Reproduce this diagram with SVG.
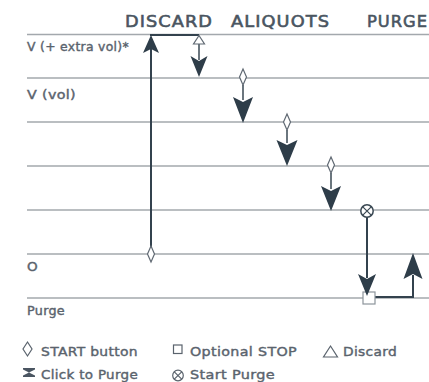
<svg xmlns="http://www.w3.org/2000/svg" width="429" height="382" viewBox="0 0 429 382">
<style>
.grid{stroke:#a3a8ad;stroke-width:1.5;fill:none}
.conn{stroke:#33424e;stroke-width:2;fill:none}
.thin{stroke:#3a4853;stroke-width:1.5;fill:none}
.head{fill:#2e3d49;stroke:none}
.sym{fill:#fff;stroke:#5f6872;stroke-width:1.2}
.hdr{font-family:"DejaVu Sans",sans-serif;font-size:16.5px;letter-spacing:1px;fill:#4a5561;stroke:#4a5561;stroke-width:0.6}
.lbl{font-family:"DejaVu Sans",sans-serif;font-size:12px;letter-spacing:0.3px;fill:#5a636d;stroke:#5a636d;stroke-width:0.4}
.leg{font-family:"DejaVu Sans",sans-serif;font-size:13px;letter-spacing:0.3px;fill:#5a636d;stroke:#5a636d;stroke-width:0.4}
.licon{fill:none;stroke:#5a636d;stroke-width:1.2}
</style>
<rect width="429" height="382" fill="#fff"/>
<g id="grid">
<line class="grid" x1="27" y1="34.5" x2="429" y2="34.5"/>
<line class="grid" x1="27" y1="78" x2="429" y2="78"/>
<line class="grid" x1="27" y1="122" x2="429" y2="122"/>
<line class="grid" x1="27" y1="166" x2="429" y2="166"/>
<line class="grid" x1="27" y1="210" x2="429" y2="210"/>
<line class="grid" x1="27" y1="254" x2="429" y2="254"/>
<line class="grid" x1="27" y1="298" x2="429" y2="298"/>
</g>
<g id="headers">
<text class="hdr" x="125" y="26.5" textLength="88" lengthAdjust="spacingAndGlyphs">DISCARD</text>
<text class="hdr" x="231" y="26.5" textLength="99" lengthAdjust="spacingAndGlyphs">ALIQUOTS</text>
<text class="hdr" x="367" y="26.5" textLength="61" lengthAdjust="spacingAndGlyphs">PURGE</text>
</g>
<g id="labels">
<text class="lbl" x="27" y="51" textLength="102" lengthAdjust="spacingAndGlyphs">V (+ extra vol)*</text>
<text class="lbl" x="27" y="99" textLength="49" lengthAdjust="spacingAndGlyphs">V (vol)</text>
<text class="lbl" x="27" y="271" font-size="13" textLength="11" lengthAdjust="spacingAndGlyphs">O</text>
<text class="lbl" x="27" y="315" textLength="38" lengthAdjust="spacingAndGlyphs">Purge</text>
</g>
<g id="connectors">
<line class="conn" x1="151" y1="247" x2="151" y2="48"/>
<line class="conn" x1="150" y1="35" x2="199" y2="35"/>
<line class="thin" x1="199" y1="44" x2="199" y2="60"/>
<line class="thin" x1="243" y1="85" x2="243" y2="100"/>
<line class="thin" x1="287" y1="130" x2="287" y2="143"/>
<line class="thin" x1="331" y1="173" x2="331" y2="189"/>
<line class="conn" x1="367" y1="217" x2="367" y2="278"/>
<line class="conn" x1="374" y1="297" x2="413" y2="297"/>
<line class="conn" x1="413" y1="298" x2="413" y2="275"/>
<path class="head" d="M151,35 L143,53 L151,49 L159,53 Z"/>
<path class="head" d="M199,77 L190.5,56 L199,61 L207.5,56 Z"/>
<path class="head" d="M243,123 L233,97 L243,102 L253,97 Z"/>
<path class="head" d="M287,166 L276.5,140 L287,145 L297.5,140 Z"/>
<path class="head" d="M331,211 L321,186 L331,191 L341,186 Z"/>
<path class="head" d="M413,253 L403.5,279 L413,274 L422.5,279 Z"/>
</g>
<g id="discard">
<path class="sym" d="M199,35.5 L204.5,44 L193.5,44 Z" stroke="#3a4853"/>
</g>
<g id="start1"><path class="sym" d="M151,246 L154.5,254 L151,262 L147.5,254 Z"/></g>
<g id="start2"><path class="sym" d="M243,69 L246.5,77 L243,85 L239.5,77 Z"/></g>
<g id="start3"><path class="sym" d="M287,114 L290.5,122 L287,130 L283.5,122 Z"/></g>
<g id="start4"><path class="sym" d="M331,157 L334.5,165 L331,173 L327.5,165 Z"/></g>
<g id="startpurge">
<circle cx="367" cy="211" r="6.2" fill="#fff" stroke="#3a4853" stroke-width="1.5"/>
<path d="M362.8,206.8 L371.2,215.2 M371.2,206.8 L362.8,215.2" stroke="#3a4853" stroke-width="1.2" fill="none"/>
</g>
<g id="stop">
<rect x="363" y="292" width="12" height="12" fill="#fff" stroke="#8d949b" stroke-width="1.2"/>
<path class="head" d="M367,296 L358,274 L367,279 L376,274 Z"/>
</g>
<g id="legend">
<path class="licon" d="M27.5,342 L32,349 L27.5,356 L23,349 Z"/>
<text class="leg" x="41" y="356" textLength="97" lengthAdjust="spacingAndGlyphs">START button</text>
<rect class="licon" x="173.5" y="345" width="8.5" height="8.5"/>
<text class="leg" x="190" y="356" textLength="107" lengthAdjust="spacingAndGlyphs">Optional STOP</text>
<path class="licon" d="M330.5,346 L337.5,357 L323.5,357 Z"/>
<text class="leg" x="343" y="356" textLength="54" lengthAdjust="spacingAndGlyphs">Discard</text>
<path d="M23,368 H35 V369.5 L29,372.5 L35,375.5 V377 H23 V375.5 L29,372.5 L23,369.5 Z" fill="#4a5561"/>
<text class="leg" x="41" y="379" textLength="97" lengthAdjust="spacingAndGlyphs">Click to Purge</text>
<circle class="licon" cx="178" cy="375.5" r="5.3"/>
<path class="licon" d="M174.3,371.8 L181.7,379.2 M181.7,371.8 L174.3,379.2"/>
<text class="leg" x="190" y="379" textLength="85" lengthAdjust="spacingAndGlyphs">Start Purge</text>
</g>
</svg>
